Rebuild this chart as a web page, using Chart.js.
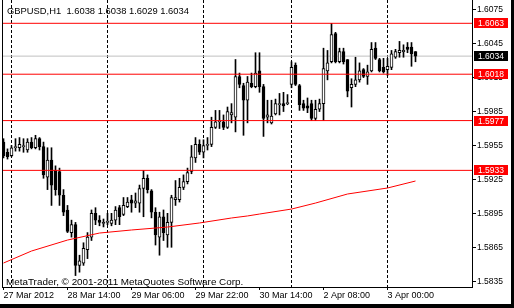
<!DOCTYPE html>
<html>
<head>
<meta charset="utf-8">
<script src="https://cdn.jsdelivr.net/npm/chart.js@4.4.1/dist/chart.umd.min.js"></script>
<style>
  html, body { margin: 0; padding: 0; background: #fff; }
  canvas { display: block; }
</style>
</head>
<body>
<canvas id="chart" width="514" height="308"></canvas>
<script>
const symbol = 'GBPUSD';
const period = 'H1';

// hourly bars, 27 Mar 22:00 .. 3 Apr 07:00 (weekend skipped)
const opens = [
  1.5958, 1.5949, 1.5946, 1.5953, 1.5953, 1.5954, 1.5951, 1.5958, 1.5953, 1.5961,
  1.5954, 1.5927, 1.5942, 1.5933, 1.5932, 1.5911, 1.5898, 1.5878, 1.5885, 1.5849,
  1.5851, 1.5863, 1.5874, 1.5895, 1.5889, 1.5886, 1.5887, 1.5886, 1.5889, 1.5900,
  1.5894, 1.5901, 1.5907, 1.5904, 1.5904, 1.5917, 1.5926, 1.5915, 1.5896, 1.5874,
  1.5892, 1.5876, 1.5887, 1.5907, 1.5907, 1.5918, 1.5923, 1.5932, 1.5944, 1.5956,
  1.5949, 1.5955, 1.5956, 1.5971, 1.5976, 1.5976, 1.5971, 1.5982, 1.5980, 1.6016,
  1.6008, 1.5995, 1.6010, 1.6007, 1.6021, 1.6007, 1.5980, 1.5975, 1.5983, 1.5991,
  1.5992, 1.5992, 1.6009, 1.6026, 1.6008, 1.5992, 1.5990, 1.5992, 1.5979, 1.5987,
  1.5992, 1.6021, 1.6029, 1.6054, 1.6029, 1.6038, 1.6031, 1.6006, 1.6009, 1.6013,
  1.6022, 1.6016, 1.6021, 1.6041, 1.6031, 1.6024, 1.6022, 1.6024, 1.6033, 1.6037,
  1.6038, 1.6042, 1.6042, 1.6038
];
const highs = [
  1.5961, 1.5952, 1.5955, 1.5961, 1.5962, 1.5961, 1.5961, 1.5962, 1.5964, 1.5962,
  1.5958, 1.5953, 1.5953, 1.5937, 1.5935, 1.5916, 1.5902, 1.5889, 1.5887, 1.5858,
  1.5869, 1.5878, 1.5898, 1.5900, 1.5893, 1.5890, 1.5895, 1.5895, 1.5901, 1.5902,
  1.5909, 1.5909, 1.5911, 1.5913, 1.5920, 1.5933, 1.5929, 1.5916, 1.5900, 1.5896,
  1.5898, 1.5895, 1.5911, 1.5924, 1.5926, 1.5929, 1.5935, 1.5955, 1.5962, 1.5960,
  1.5960, 1.5962, 1.5980, 1.5986, 1.5986, 1.5982, 1.5989, 1.5992, 1.6031, 1.6019,
  1.6010, 1.6016, 1.6019, 1.6037, 1.6037, 1.6009, 1.5995, 1.5995, 1.5996, 1.6001,
  1.6002, 1.6000, 1.6029, 1.6028, 1.6009, 1.5995, 1.5997, 1.5995, 1.5995, 1.5996,
  1.6041, 1.6039, 1.6063, 1.6055, 1.6041, 1.6041, 1.6031, 1.6014, 1.6033, 1.6028,
  1.6023, 1.6026, 1.6046, 1.6046, 1.6032, 1.6032, 1.6032, 1.6039, 1.6040, 1.6047,
  1.6044, 1.6046, 1.6046, 1.6038
];
const lows = [
  1.5944, 1.5943, 1.5945, 1.5950, 1.5950, 1.5949, 1.5949, 1.5952, 1.5952, 1.5951,
  1.5926, 1.5916, 1.5902, 1.5911, 1.5902, 1.5893, 1.5878, 1.5874, 1.5840, 1.5843,
  1.5849, 1.5855, 1.5871, 1.5885, 1.5884, 1.5883, 1.5885, 1.5884, 1.5885, 1.5885,
  1.5893, 1.5900, 1.5896, 1.5900, 1.5896, 1.5892, 1.5913, 1.5891, 1.5867, 1.5858,
  1.5871, 1.5865, 1.5865, 1.5902, 1.5905, 1.5916, 1.5921, 1.5930, 1.5940, 1.5947,
  1.5944, 1.5951, 1.5954, 1.5970, 1.5970, 1.5969, 1.5970, 1.5975, 1.5967, 1.6006,
  1.5964, 1.5975, 1.6006, 1.6006, 1.6002, 1.5963, 1.5975, 1.5974, 1.5982, 1.5982,
  1.5985, 1.5991, 1.6006, 1.6008, 1.5986, 1.5986, 1.5984, 1.5977, 1.5977, 1.5985,
  1.5977, 1.6013, 1.6028, 1.6028, 1.6028, 1.6027, 1.5998, 1.5989, 1.6007, 1.6011,
  1.6015, 1.6009, 1.6020, 1.6031, 1.6020, 1.6019, 1.6017, 1.6022, 1.6032, 1.6033,
  1.6033, 1.6037, 1.6025, 1.6029
];
const closes = [
  1.5946, 1.5945, 1.5953, 1.5954, 1.5956, 1.5955, 1.5958, 1.5953, 1.5961, 1.5954,
  1.5929, 1.5942, 1.5920, 1.5916, 1.5911, 1.5896, 1.5879, 1.5885, 1.5849, 1.5853,
  1.5864, 1.5874, 1.5895, 1.5889, 1.5887, 1.5887, 1.5888, 1.5889, 1.5898, 1.5892,
  1.5902, 1.5905, 1.5904, 1.5906, 1.5917, 1.5926, 1.5916, 1.5896, 1.5876, 1.5892,
  1.5878, 1.5887, 1.5909, 1.5909, 1.5918, 1.5923, 1.5931, 1.5945, 1.5956, 1.5949,
  1.5955, 1.5956, 1.5971, 1.5976, 1.5977, 1.5971, 1.5985, 1.5984, 1.6016, 1.6009,
  1.5995, 1.6011, 1.6007, 1.6019, 1.6007, 1.5979, 1.5982, 1.5981, 1.5992, 1.5992,
  1.5990, 1.5993, 1.6024, 1.6009, 1.5991, 1.5988, 1.5988, 1.5979, 1.5987, 1.5992,
  1.6023, 1.6028, 1.6053, 1.6029, 1.6038, 1.6029, 1.6003, 1.6009, 1.6013, 1.6021,
  1.6016, 1.6020, 1.6040, 1.6032, 1.6021, 1.6020, 1.6025, 1.6036, 1.6038, 1.6039,
  1.6039, 1.6040, 1.6036, 1.6034
];

// moving average
const maBars = [0, 7, 16, 24, 32, 41, 49, 57, 61, 64, 72, 78, 86, 96, 103];
const maValues = [1.58511, 1.58617, 1.58714, 1.58776, 1.58803, 1.58829, 1.58865, 1.58909,
  1.58927, 1.58944, 1.58988, 1.59041, 1.59121, 1.59174, 1.59236];

const tickBars = [0, 16, 32, 48, 64, 80, 96];
const tickLabels = ['27 Mar 2012', '28 Mar 14:00', '29 Mar 06:00', '29 Mar 22:00',
  '30 Mar 14:00', '2 Apr 08:00', '3 Apr 00:00'];
const dayBars = [2, 26, 50, 72, 96];
const priceTicks = [1.5835, 1.5865, 1.5895, 1.5925, 1.5955, 1.5985, 1.6015, 1.6045, 1.6075];
const levels = [1.6063, 1.6018, 1.5977, 1.5933];
const bid = 1.6034;

const FONT = "'Liberation Sans', Arial, sans-serif";
const xMin = -0.375, xMax = 117.125;
const yMin = 1.58299, yMax = 1.60836;

const idx = opens.map((_, i) => i);
const flat = v => [{x: xMin, y: v}, {x: xMax, y: v}];

const decor = {
  id: 'decor',
  afterDraw(chart) {
    const ctx = chart.ctx;
    const a = chart.chartArea;
    const y = chart.scales.y;
    ctx.save();
    // left frame
    ctx.fillStyle = '#000';
    ctx.fillRect(a.left, a.top, 1, a.bottom - a.top + 1);

    const box = (v, bg) => {
      const py = Math.round(y.getPixelForValue(v));
      ctx.fillStyle = bg;
      ctx.fillRect(474, py - 5, 34, 10);
      ctx.fillStyle = '#fff';
      ctx.font = '8.5px ' + FONT;
      ctx.textBaseline = 'middle';
      ctx.textAlign = 'left';
      ctx.fillText(v.toFixed(4), 478, py + 0.5);
    };
    levels.forEach(v => box(v, '#ff0000'));
    box(bid, '#000');

    ctx.fillStyle = '#000';
    ctx.textAlign = 'left';
    ctx.textBaseline = 'alphabetic';
    const n = opens.length - 1;
    ctx.font = '9.4px ' + FONT;
    ctx.fillText(symbol + ',' + period + '  ' + [opens[n], highs[n], lows[n], closes[n]]
      .map(v => v.toFixed(4)).join(' '), 7, 14);
    ctx.font = '9.9px ' + FONT;
    ctx.fillText('MetaTrader, \u00a9 2001-2011 MetaQuotes Software Corp.', 6, 285);

    // window edges
    ctx.fillRect(0, 304, 514, 4);
    ctx.fillRect(511, 0, 3, 308);
    ctx.restore();
  }
};

new Chart(document.getElementById('chart'), {
  type: 'bar',
  data: {
    datasets: [
      ...levels.map(v => ({
        type: 'line', data: flat(v), borderColor: '#ff0000', borderWidth: 1,
        pointRadius: 0, order: 0
      })),
      {
        type: 'line', data: maBars.map((b, i) => ({x: b, y: maValues[i]})),
        borderColor: '#ff0000', borderWidth: 1, pointRadius: 0, tension: 0, order: 0
      },
      {
        label: 'body',
        data: idx.map(i => ({x: i, y: [opens[i], closes[i]]})),
        backgroundColor: idx.map(i => closes[i] > opens[i] ? '#fff' : '#000'),
        borderColor: '#000', borderWidth: 1, borderSkipped: false,
        barThickness: 3, minBarLength: 1, grouped: false, order: 1
      },
      {
        label: 'wick',
        data: idx.map(i => ({x: i, y: [lows[i], highs[i]]})),
        backgroundColor: '#000', borderWidth: 0,
        barThickness: 1, grouped: false, order: 2
      },
      {
        type: 'line', data: flat(bid), borderColor: '#c0c0c0', borderWidth: 1,
        pointRadius: 0, order: 3
      }
    ]
  },
  options: {
    responsive: false,
    animation: false,
    devicePixelRatio: 1,
    events: [],
    layout: {padding: {left: 2, right: 0, top: 0, bottom: 0}, autoPadding: false},
    plugins: {legend: {display: false}, tooltip: {enabled: false}},
    scales: {
      x: {
        type: 'linear', position: 'bottom', min: xMin, max: xMax, offset: false,
        afterBuildTicks: s => { s.ticks = tickBars.map(v => ({value: v})); },
        afterFit: s => { s.height = 21; s.paddingLeft = 0; s.paddingRight = 0; },
        ticks: {
          align: 'start', padding: 0, color: '#000', maxRotation: 0, autoSkip: false,
          font: {family: FONT, size: 9},
          callback: (v, i) => tickLabels[i]
        },
        grid: {offset: false, drawOnChartArea: false, drawTicks: true, tickLength: 3,
          tickColor: '#000', color: '#000'},
        border: {display: true, color: '#000', width: 1}
      },
      xg: {
        type: 'linear', position: 'bottom', min: xMin, max: xMax, offset: false,
        afterBuildTicks: s => { s.ticks = dayBars.map(v => ({value: v})); },
        afterFit: s => { s.height = 0; s.paddingLeft = 0; s.paddingRight = 0; },
        ticks: {display: false},
        grid: {offset: false, drawOnChartArea: true, drawTicks: false, color: '#000', lineWidth: 1},
        border: {display: false, dash: [3, 2]}
      },
      y: {
        type: 'linear', position: 'right', min: yMin, max: yMax,
        afterBuildTicks: s => { s.ticks = priceTicks.map(v => ({value: v})); },
        afterFit: s => { s.width = 42; s.paddingTop = 0; s.paddingBottom = 0; },
        ticks: {
          padding: 1, color: '#000', font: {family: FONT, size: 8.5},
          callback: v => v.toFixed(4)
        },
        grid: {drawOnChartArea: false, tickLength: 4, tickColor: '#000'},
        border: {display: true, color: '#000', width: 1}
      }
    }
  },
  plugins: [decor]
});
</script>
</body>
</html>
